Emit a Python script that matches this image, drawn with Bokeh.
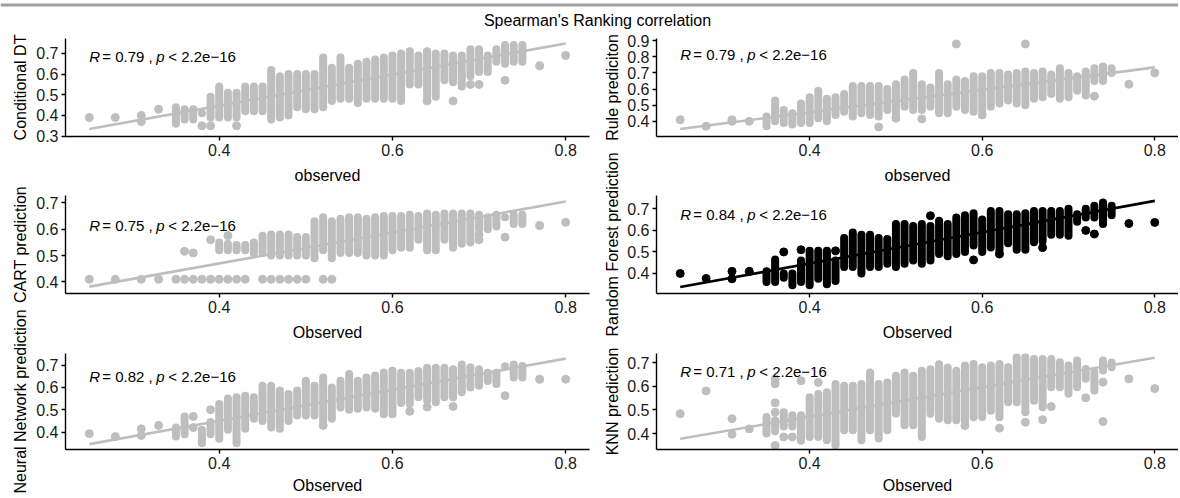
import math
from bokeh.plotting import figure
from bokeh.layouts import column, row
from bokeh.models import Range1d, FixedTicker, Label, Span
from bokeh.embed import file_html
from bokeh.resources import INLINE
from bokeh.core.properties import value

FONT = "Liberation Sans"
GRAY = "#BEBEBE"

# ---------------- data ----------------
# Observed values that carry a vertical stack of predictions (one column per 0.01)
grid_35_75 = [0.35, 0.36, 0.37, 0.38, 0.39, 0.40, 0.41, 0.42, 0.43, 0.44, 0.45,
              0.46, 0.47, 0.48, 0.49, 0.50, 0.51, 0.52, 0.53, 0.54, 0.55, 0.56,
              0.57, 0.58, 0.59, 0.60, 0.61, 0.62, 0.63, 0.64, 0.65, 0.66, 0.67,
              0.68, 0.69, 0.70, 0.71, 0.72, 0.73, 0.74, 0.75]

# Conditional DT
cdt_col_x = grid_35_75
cdt_lo = [0.36, 0.38, 0.38, 0.41, 0.39, 0.39, 0.39, 0.39, 0.42, 0.42, 0.42,
          0.38, 0.39, 0.40, 0.44, 0.43, 0.43, 0.44, 0.47, 0.48, 0.48, 0.46,
          0.48, 0.48, 0.48, 0.48, 0.47, 0.55, 0.55, 0.49, 0.49, 0.57, 0.56,
          0.54, 0.59, 0.61, 0.61, 0.66, 0.65, 0.66, 0.66]
cdt_hi = [0.44, 0.43, 0.43, 0.41, 0.49, 0.54, 0.51, 0.51, 0.54, 0.54, 0.54,
          0.62, 0.59, 0.60, 0.60, 0.60, 0.60, 0.68, 0.63, 0.68, 0.63, 0.65,
          0.66, 0.67, 0.68, 0.69, 0.70, 0.71, 0.69, 0.71, 0.70, 0.70, 0.69,
          0.69, 0.72, 0.72, 0.69, 0.72, 0.74, 0.74, 0.74]
cdt_pt_x = [0.25, 0.28, 0.31, 0.31, 0.33, 0.38, 0.39, 0.42, 0.64, 0.67, 0.69, 0.70, 0.73, 0.77, 0.80]
cdt_pt_y = [0.39, 0.39, 0.40, 0.37, 0.43, 0.35, 0.35, 0.35, 0.47, 0.47, 0.55, 0.55, 0.57, 0.64, 0.69]
cdt_fit_x = [0.25, 0.80]
cdt_fit_y = [0.334, 0.748]

# Rule prediciton
rule_col_x = grid_35_75
rule_lo = [0.37, 0.40, 0.39, 0.38, 0.39, 0.39, 0.42, 0.40, 0.44, 0.46, 0.43,
           0.45, 0.44, 0.43, 0.47, 0.44, 0.49, 0.47, 0.47, 0.49, 0.45, 0.45,
           0.49, 0.47, 0.46, 0.47, 0.49, 0.51, 0.53, 0.51, 0.50, 0.54, 0.55,
           0.57, 0.54, 0.55, 0.59, 0.56, 0.65, 0.65, 0.70]
rule_hi = [0.43, 0.53, 0.47, 0.45, 0.51, 0.55, 0.59, 0.54, 0.55, 0.57, 0.62,
           0.62, 0.62, 0.62, 0.60, 0.63, 0.66, 0.70, 0.63, 0.61, 0.70, 0.63,
           0.66, 0.65, 0.68, 0.68, 0.70, 0.70, 0.69, 0.70, 0.71, 0.70, 0.71,
           0.69, 0.73, 0.70, 0.68, 0.71, 0.73, 0.74, 0.73]
rule_pt_x = [0.25, 0.28, 0.31, 0.31, 0.33, 0.48, 0.50, 0.53, 0.57, 0.60, 0.65, 0.73, 0.77, 0.80]
rule_pt_y = [0.41, 0.37, 0.41, 0.40, 0.40, 0.365, 0.42, 0.415, 0.88, 0.44, 0.88, 0.556, 0.63, 0.70]
rule_fit_x = [0.25, 0.80]
rule_fit_y = [0.352, 0.735]

# CART prediction
cart_col_x = [0.40, 0.41, 0.42, 0.43, 0.44, 0.45, 0.46, 0.47, 0.48, 0.49, 0.50,
              0.51, 0.52, 0.53, 0.54, 0.55, 0.56, 0.57, 0.58, 0.59, 0.60, 0.61,
              0.62, 0.63, 0.64, 0.65, 0.66, 0.67, 0.68, 0.69, 0.70, 0.71, 0.72,
              0.73, 0.74, 0.75]
cart_lo = [0.52, 0.52, 0.52, 0.52, 0.51, 0.51, 0.50, 0.50, 0.50, 0.50, 0.50,
           0.49, 0.52, 0.49, 0.51, 0.51, 0.51, 0.50, 0.50, 0.50, 0.52, 0.53,
           0.53, 0.56, 0.52, 0.52, 0.56, 0.53, 0.545, 0.55, 0.60, 0.60, 0.61,
           0.645, 0.62, 0.62]
cart_hi = [0.55, 0.545, 0.54, 0.54, 0.55, 0.575, 0.58, 0.58, 0.58, 0.57, 0.57,
           0.63, 0.645, 0.63, 0.64, 0.645, 0.645, 0.64, 0.645, 0.65, 0.65, 0.65,
           0.655, 0.65, 0.66, 0.655, 0.66, 0.66, 0.66, 0.66, 0.655, 0.645, 0.655,
           0.645, 0.655, 0.655]
cart_pt_x = [0.25, 0.28, 0.31, 0.33, 0.35, 0.36, 0.37, 0.38, 0.39, 0.40, 0.41,
             0.42, 0.43, 0.45, 0.46, 0.47, 0.48, 0.49, 0.50, 0.52, 0.53,
             0.36, 0.37, 0.39, 0.41, 0.70, 0.70, 0.73, 0.77, 0.80]
cart_pt_y = [0.41, 0.41, 0.41, 0.41, 0.41, 0.41, 0.41, 0.41, 0.41, 0.41, 0.41,
             0.41, 0.41, 0.41, 0.41, 0.41, 0.41, 0.41, 0.41, 0.41, 0.41,
             0.516, 0.51, 0.56, 0.576, 0.58, 0.56, 0.57, 0.614, 0.626]
cart_fit_x = [0.25, 0.80]
cart_fit_y = [0.382, 0.705]

# Random Forest prediction
rf_col_x = grid_35_75
rf_lo = [0.36, 0.36, 0.38, 0.345, 0.36, 0.345, 0.375, 0.35, 0.365, 0.43, 0.43,
         0.40, 0.43, 0.43, 0.445, 0.43, 0.445, 0.46, 0.445, 0.46, 0.49, 0.48,
         0.49, 0.50, 0.53, 0.50, 0.52, 0.50, 0.54, 0.51, 0.51, 0.545, 0.55,
         0.58, 0.58, 0.575, 0.64, 0.66, 0.66, 0.63, 0.67]
rf_hi = [0.41, 0.465, 0.40, 0.40, 0.46, 0.505, 0.505, 0.505, 0.46, 0.565, 0.59,
         0.58, 0.58, 0.565, 0.56, 0.63, 0.63, 0.62, 0.63, 0.62, 0.645, 0.63,
         0.66, 0.67, 0.68, 0.65, 0.69, 0.69, 0.675, 0.675, 0.68, 0.69, 0.69,
         0.69, 0.69, 0.70, 0.675, 0.70, 0.714, 0.73, 0.714]
rf_pt_x = [0.25, 0.28, 0.31, 0.31, 0.33, 0.37, 0.39, 0.43, 0.54, 0.59, 0.62, 0.67, 0.72, 0.73, 0.77, 0.80]
rf_pt_y = [0.40, 0.377, 0.41, 0.375, 0.41, 0.50, 0.51, 0.505, 0.668, 0.463, 0.49, 0.52, 0.60, 0.583, 0.632, 0.637]
rf_fit_x = [0.25, 0.80]
rf_fit_y = [0.337, 0.737]

# Neural Network prediction
nn_col_x = [0.35, 0.36, 0.38, 0.39, 0.40, 0.41, 0.42, 0.43, 0.44, 0.45, 0.46,
            0.47, 0.48, 0.49, 0.50, 0.51, 0.52, 0.53, 0.54, 0.55, 0.56, 0.57,
            0.58, 0.59, 0.60, 0.61, 0.62, 0.63, 0.64, 0.65, 0.66, 0.67, 0.68,
            0.69, 0.70, 0.71, 0.72, 0.73, 0.74, 0.75]
nn_lo = [0.38, 0.39, 0.35, 0.39, 0.37, 0.41, 0.35, 0.415, 0.46, 0.45, 0.42,
         0.415, 0.45, 0.474, 0.474, 0.474, 0.452, 0.46, 0.51, 0.50, 0.504, 0.51,
         0.504, 0.48, 0.48, 0.53, 0.526, 0.556, 0.541, 0.534, 0.556, 0.556, 0.578,
         0.60, 0.607, 0.629, 0.615, 0.695, 0.644, 0.644]
nn_hi = [0.42, 0.47, 0.41, 0.445, 0.526, 0.55, 0.556, 0.563, 0.556, 0.608, 0.608,
         0.586, 0.571, 0.586, 0.63, 0.608, 0.645, 0.60, 0.63, 0.66, 0.63, 0.645,
         0.653, 0.667, 0.675, 0.666, 0.666, 0.674, 0.688, 0.688, 0.688, 0.681, 0.703,
         0.69, 0.681, 0.666, 0.666, 0.695, 0.703, 0.696]
nn_pt_x = [0.25, 0.28, 0.31, 0.31, 0.33, 0.37, 0.37, 0.39, 0.52, 0.62, 0.64, 0.67, 0.73, 0.77, 0.80]
nn_pt_y = [0.393, 0.38, 0.415, 0.385, 0.43, 0.47, 0.42, 0.50, 0.43, 0.493, 0.512, 0.515, 0.563, 0.637, 0.637]
nn_fit_x = [0.25, 0.80]
nn_fit_y = [0.346, 0.729]

# KNN prediction
knn_col_x = grid_35_75
knn_lo = [0.40, 0.41, 0.43, 0.43, 0.37, 0.386, 0.386, 0.372, 0.351, 0.414, 0.414,
          0.372, 0.414, 0.379, 0.414, 0.484, 0.435, 0.435, 0.386, 0.484, 0.463, 0.456,
          0.456, 0.455, 0.469, 0.47, 0.497, 0.469, 0.532, 0.532, 0.49, 0.539, 0.511,
          0.596, 0.596, 0.568, 0.596, 0.631, 0.582, 0.666, 0.68]
knn_hi = [0.47, 0.456, 0.49, 0.477, 0.477, 0.553, 0.567, 0.574, 0.609, 0.602, 0.602,
          0.609, 0.658, 0.609, 0.616, 0.644, 0.658, 0.644, 0.665, 0.672, 0.693, 0.679,
          0.665, 0.687, 0.694, 0.68, 0.687, 0.694, 0.68, 0.722, 0.722, 0.715, 0.715,
          0.715, 0.701, 0.687, 0.708, 0.673, 0.659, 0.708, 0.70]
knn_pt_x = [0.25, 0.28, 0.31, 0.31, 0.33, 0.36, 0.36, 0.36, 0.36, 0.36, 0.37, 0.38,
            0.39, 0.41, 0.58, 0.62, 0.65, 0.67, 0.68, 0.72, 0.74, 0.74, 0.77, 0.80]
knn_pt_y = [0.484, 0.58, 0.463, 0.397, 0.42, 0.63, 0.61, 0.53, 0.49, 0.35, 0.386, 0.386,
            0.623, 0.616, 0.434, 0.423, 0.448, 0.459, 0.514, 0.551, 0.617, 0.451, 0.631, 0.59]
knn_fit_x = [0.25, 0.80]
knn_fit_y = [0.378, 0.72]

y_ticks = [0.3, 0.4, 0.5, 0.6, 0.7, 0.8, 0.9]
x_ticks = [0.4, 0.6, 0.8]
cor_r = ["0.79", "0.79", "0.75", "0.84", "0.82", "0.71"]
y_titles = ["Conditional DT", "Rule prediciton", "CART prediction",
            "Random Forest prediction", "Neural Network prediction", "KNN prediction"]
x_titles = ["observed", "observed", "Observed", "Observed", "Observed", "Observed"]
title_text = "Spearman's Ranking correlation"

# ---------------- layout constants ----------------
XR = (0.2225, 0.8275)
LAB_L_W, LAB_R_W = 31, 24
LEFT_W, RIGHT_W = 569, 554
LEFT_B, RIGHT_B = (34, 11), (31, 0)
TITLE_H = 30
ROW_H = [158, 158, 150]
ROW_B = [(8, 52, 8), (7, 53, 8), (7, 47, 5)]   # top, bottom, xlabel standoff


def panel(col_x, lo, hi, px, py, fx, fy, yr, lab_y, r, xtitle, col, rowi, color):
    w = LEFT_W if col == 0 else RIGHT_W
    bl, br = LEFT_B if col == 0 else RIGHT_B
    bt, bb, sto = ROW_B[rowi]
    p = figure(width=w, height=ROW_H[rowi], x_range=Range1d(*XR), y_range=Range1d(*yr),
               output_backend="svg", toolbar_location=None,
               min_border_left=bl, min_border_right=br,
               min_border_top=bt, min_border_bottom=bb)
    p.outline_line_color = None
    p.xgrid.visible = False
    p.ygrid.visible = False
    p.background_fill_color = "white"
    p.border_fill_color = "white"
    p.segment(x0=col_x, y0=lo, x1=col_x, y1=hi, line_width=8, line_color=color,
              line_cap="round")
    p.scatter(px, py, size=8, fill_color=color, line_color=color)
    p.line(fx, fy, line_width=2.6, line_color=color)
    for ax in (p.xaxis[0], p.yaxis[0]):
        ax.axis_line_color = "black"
        ax.axis_line_width = 1.4
        ax.major_tick_line_color = "black"
        ax.major_tick_line_width = 1.4
        ax.major_tick_in = 0
        ax.major_tick_out = 4
        ax.minor_tick_line_color = None
        ax.major_label_standoff = 3
        ax.major_label_text_font = FONT
        ax.major_label_text_font_size = "16px"
        ax.major_label_text_color = "#1a1a1a"
    p.xaxis.ticker = FixedTicker(ticks=x_ticks)
    p.yaxis.ticker = FixedTicker(ticks=y_ticks)
    p.xaxis.axis_label = xtitle
    p.xaxis.axis_label_text_font = FONT
    p.xaxis.axis_label_text_font_size = "16px"
    p.xaxis.axis_label_text_font_style = "normal"
    p.xaxis.axis_label_text_color = "black"
    p.xaxis.axis_label_standoff = sto
    # correlation annotation: R = .., p < ..
    pieces = [("R", "italic", 0), ("= " + r + " ,", "normal", 13),
              ("p", "italic", 67), ("< 2.2e\u221216", "normal", 79)]
    for t, st, off in pieces:
        p.add_layout(Label(x=fx[0], y=lab_y, x_offset=off, text=t, text_font=FONT,
                           text_font_size="15px", text_font_style=st,
                           text_baseline="middle", text_color="black"))
    return p


p1 = panel(cdt_col_x, cdt_lo, cdt_hi, cdt_pt_x, cdt_pt_y, cdt_fit_x, cdt_fit_y,
           (0.298, 0.772), 0.686, cor_r[0], x_titles[0], 0, 0, GRAY)
p2 = panel(rule_col_x, rule_lo, rule_hi, rule_pt_x, rule_pt_y, rule_fit_x, rule_fit_y,
           (0.306, 0.914), 0.813, cor_r[1], x_titles[1], 1, 0, GRAY)
p3 = panel(cart_col_x, cart_lo, cart_hi, cart_pt_x, cart_pt_y, cart_fit_x, cart_fit_y,
           (0.356, 0.728), 0.615, cor_r[2], x_titles[2], 0, 1, GRAY)
p4 = panel(rf_col_x, rf_lo, rf_hi, rf_pt_x, rf_pt_y, rf_fit_x, rf_fit_y,
           (0.307, 0.762), 0.672, cor_r[3], x_titles[3], 1, 1, "black")
p5 = panel(nn_col_x, nn_lo, nn_hi, nn_pt_x, nn_pt_y, nn_fit_x, nn_fit_y,
           (0.322, 0.752), 0.648, cor_r[4], x_titles[4], 0, 2, GRAY)
p6 = panel(knn_col_x, knn_lo, knn_hi, knn_pt_x, knn_pt_y, knn_fit_x, knn_fit_y,
           (0.333, 0.738), 0.661, cor_r[5], x_titles[5], 1, 2, GRAY)

# y-axis titles live in their own full-height strips so long titles are not clipped
LAB_H = sum(ROW_H)
row_top = [0, ROW_H[0], ROW_H[0] + ROW_H[1]]
frame_h = [ROW_H[i] - ROW_B[i][0] - ROW_B[i][1] for i in range(3)]
row_centers = [LAB_H - (row_top[i] + ROW_B[i][0] + frame_h[i] / 2) for i in range(3)]


def label_strip(w, xc, texts):
    s = figure(width=w, height=LAB_H, x_range=Range1d(0, w), y_range=Range1d(0, LAB_H),
               output_backend="svg", toolbar_location=None, min_border=0)
    s.axis.visible = False
    s.grid.visible = False
    s.outline_line_color = None
    s.text(x=[xc] * 3, y=row_centers, text=texts, angle=math.pi / 2,
           text_font=value(FONT), text_font_size=value("16px"), text_color="black",
           text_align="center", text_baseline="middle")
    return s


lstrip = label_strip(LAB_L_W, 20, [y_titles[0], y_titles[2], y_titles[4]])
rstrip = label_strip(LAB_R_W, 12, [y_titles[1], y_titles[3], y_titles[5]])

TW = LAB_L_W + LEFT_W + LAB_R_W + RIGHT_W
tfig = figure(width=TW, height=TITLE_H, x_range=Range1d(0, TW), y_range=Range1d(0, TITLE_H),
              output_backend="svg", toolbar_location=None, min_border=0)
tfig.axis.visible = False
tfig.grid.visible = False
tfig.outline_line_color = None
tfig.add_layout(Span(location=TITLE_H - 4.5, dimension="width", line_color="#A0A0A0",
                     line_width=3))
tfig.add_layout(Label(x=597, y=TITLE_H - 20, text=title_text, text_font=FONT,
                      text_font_size="16px", text_align="center", text_baseline="middle",
                      text_color="black"))

layout = column(tfig, row(lstrip, column(p1, p3, p5), rstrip, column(p2, p4, p6)))

open("out.html", "w").write(file_html(layout, INLINE))
